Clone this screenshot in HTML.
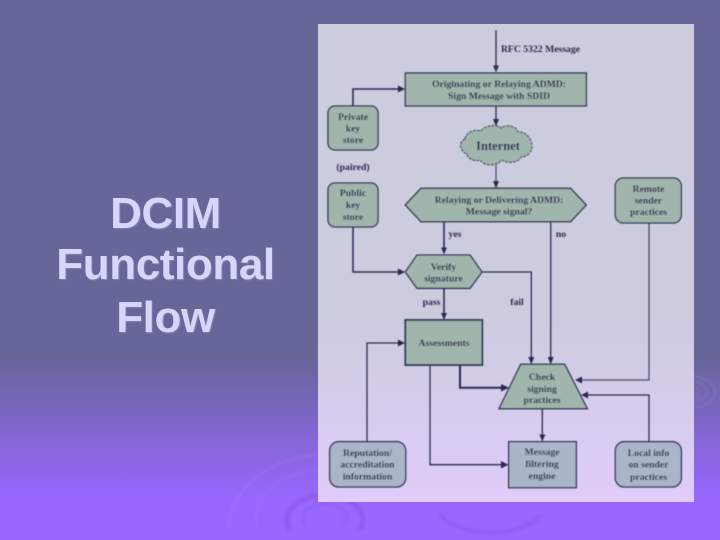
<!DOCTYPE html>
<html>
<head>
<meta charset="utf-8">
<style>
html,body{margin:0;padding:0;width:720px;height:540px;overflow:hidden;background:#669}
svg{display:block;position:absolute;left:0;top:0}
.t{font-family:"Liberation Serif",serif;font-weight:bold;fill:#2c2c50;text-anchor:middle;font-size:9.7px}
.h{font-family:"Liberation Sans",sans-serif;font-weight:bold;fill:#d6d6fb;text-anchor:middle;font-size:44px;letter-spacing:-.4px}
.l{fill:none;stroke:#2c2a50;stroke-width:1.3}
.b{stroke:#2c2a50;stroke-width:1.3}
</style>
</head>
<body>
<svg width="720" height="540" viewBox="0 0 720 540" xmlns="http://www.w3.org/2000/svg">
<defs>
<linearGradient id="bg" x1="0" y1="0" x2="0" y2="1">
<stop offset="0" stop-color="#666699"/>
<stop offset=".66" stop-color="#666699"/>
<stop offset=".92" stop-color="#9966ff"/>
<stop offset="1" stop-color="#9966ff"/>
</linearGradient>
<linearGradient id="pn" x1="0" y1="0" x2="0" y2="1">
<stop offset="0" stop-color="#ccccdf"/>
<stop offset=".62" stop-color="#ccccdf"/>
<stop offset="1" stop-color="#e0ccfa"/>
</linearGradient>
<filter id="s" x="-5%" y="-5%" width="110%" height="110%"><feGaussianBlur stdDeviation="0.4"/></filter>
<filter id="r" x="-10%" y="-10%" width="120%" height="120%"><feGaussianBlur stdDeviation="1"/></filter>
</defs>

<rect width="720" height="540" fill="url(#bg)"/>

<g fill="none" stroke="#7c50d8" filter="url(#r)">
<path d="M290 530A38 25 0 1 1 360 530" stroke-width="5" opacity=".4"/>
<path d="M306 525A22 14 0 1 1 344 525" stroke-width="3" opacity=".25"/>
<path d="M228 530A100 78 0 0 1 330 454" stroke="#a67cf5" stroke-width="3" opacity=".3"/>
<path d="M258 530A68 48 0 0 1 330 470" stroke="#a67cf5" stroke-width="2" opacity=".25"/>
<path d="M440 515A55 30 0 0 0 540 515" stroke-width="4" opacity=".3"/>
</g>
<g fill="none" stroke="#8377c0" filter="url(#r)" opacity=".55">
<ellipse cx="689" cy="392" rx="10" ry="6" stroke-width="2"/>
<ellipse cx="689" cy="392" rx="18" ry="11" stroke-width="2"/>
<ellipse cx="689" cy="392" rx="26" ry="16" stroke-width="2.500"/>
</g>

<g style="text-shadow:1px 1px 1px #8080b4">
<text class="h" x="165.500" y="228">DCIM</text>
<text class="h" x="165.500" y="279">Functional</text>
<text class="h" x="165.500" y="332">Flow</text>
</g>

<rect x="318" y="24" width="376" height="478" fill="url(#pn)"/>

<g filter="url(#s)">
<!-- connectors -->
<g class="l">
<path d="M496 30V68"/>
<path d="M353 106V89H401" stroke-width="1.6"/>
<path d="M496 106V122"/>
<path d="M496 165V184" stroke="#555070"/>
<path d="M444 222V250" stroke-width="1.6"/>
<path d="M550.700 222V360"/>
<path d="M353 227V272H401" stroke-width="1.5"/>
<path d="M482 272H531.300V360"/>
<path d="M444 288V316" stroke-width="1.6"/>
<path d="M649 223V380H579" stroke="#4a4866"/>
<path d="M649 442V395H585"/>
<path d="M460 365V387.700H504" stroke-width="2"/>
<path d="M430 365V464.700H504"/>
<path d="M367 442V343H401"/>
<path d="M542.300 408V437"/>
</g>
<!-- arrowheads -->
<g fill="#2c2a50">
<path d="M493 65.500L499 65.500L496 72.500Z"/>
<path d="M398 85.500L405 89L398 92.500Z"/>
<path d="M493 119L499 119L496 126.500Z"/>
<path d="M493 181L499 181L496 188.500Z"/>
<path d="M441 247.500L447 247.500L444 254.500Z"/>
<path d="M547.700 357L553.700 357L550.700 364.500Z"/>
<path d="M398 268.500L405 272L398 275.500Z"/>
<path d="M528.300 357L534.300 357L531.300 364.500Z"/>
<path d="M441 313L447 313L444 320Z"/>
<path d="M582 376.500L575 380L582 383.500Z"/>
<path d="M588 391.500L581 395L588 398.500Z"/>
<path d="M501 384L509 387.700L501 391.500Z"/>
<path d="M501 461L508.500 464.700L501 468.500Z"/>
<path d="M398 339.500L405 343L398 346.500Z"/>
<path d="M539.300 434.500L545.300 434.500L542.300 441.500Z"/>
</g>

<!-- green shapes -->
<g fill="#a0b5ac" class="b">
<rect x="405.300" y="73" width="181" height="33"/>
<rect x="328" y="106" width="50" height="44" rx="7"/>
<rect x="328" y="183" width="50" height="44" rx="7"/>
<rect x="615.300" y="178" width="66" height="45" rx="8"/>
<path d="M405.300 205L421 188.300H570.500L586.300 205L570.500 221.700H421Z"/>
<path d="M405.300 272L417 255H470L482 272L470 288.300H417Z"/>
<rect x="405.300" y="320" width="77" height="45" stroke-width="1.700"/>
<path d="M520.700 364.300H564.700L587.300 408.700H499Z"/>
<path d="M465 139C466 132 475 129 481 131C485 125 497 124 501 128C507 124 516 126 518 132C525 131 532 139 532 146C532 152 527 157 521 157C517 164 506 163 502 160C496 167 484 166 480 160C474 162 467 158 467 154C461 152 457 143 465 139Z" stroke-width="1" stroke-dasharray="3 1"/>
</g>

<!-- blue shapes -->
<g fill="#a9b5c9" class="b">
<rect x="329.700" y="441.700" width="76" height="45.300" rx="9"/>
<rect x="508.700" y="441.700" width="67.600" height="46"/>
<rect x="615.300" y="441.700" width="66" height="45.300" rx="9"/>
</g>

<!-- labels -->
<text class="t" x="540.500" y="52">RFC 5322 Message</text>
<text class="t" x="499" y="87">Originating or Relaying  ADMD:</text>
<text class="t" x="499" y="99">Sign Message with SDID</text>
<text class="t" x="353" y="120">Private</text>
<text class="t" x="353" y="131.500">key</text>
<text class="t" x="353" y="143">store</text>
<text class="t" x="353" y="170">(paired)</text>
<text class="t" x="353" y="196">Public</text>
<text class="t" x="353" y="208">key</text>
<text class="t" x="353" y="220">store</text>
<text class="t" x="498" y="150" style="font-size:12.500px">Internet</text>
<text class="t" x="499" y="203">Relaying or Delivering ADMD:</text>
<text class="t" x="499" y="214.500">Message signal?</text>
<text class="t" x="648.500" y="192">Remote</text>
<text class="t" x="648.500" y="203.500">sender</text>
<text class="t" x="648.500" y="215">practices</text>
<text class="t" x="455" y="237">yes</text>
<text class="t" x="561" y="237">no</text>
<text class="t" x="443.500" y="270">Verify</text>
<text class="t" x="443.500" y="281.500">signature</text>
<text class="t" x="431.500" y="305">pass</text>
<text class="t" x="517" y="305">fail</text>
<text class="t" x="444" y="346">Assessments</text>
<text class="t" x="542" y="380">Check</text>
<text class="t" x="542" y="392">signing</text>
<text class="t" x="542" y="403">practices</text>
<text class="t" x="367.500" y="456">Reputation/</text>
<text class="t" x="367.500" y="467.500">accreditation</text>
<text class="t" x="367.500" y="479.500">information</text>
<text class="t" x="542" y="455">Message</text>
<text class="t" x="542" y="467">filtering</text>
<text class="t" x="542" y="479">engine</text>
<text class="t" x="648.500" y="456">Local info</text>
<text class="t" x="648.500" y="467.500">on sender</text>
<text class="t" x="648.500" y="480">practices</text>
</g>
</svg>
</body>
</html>
